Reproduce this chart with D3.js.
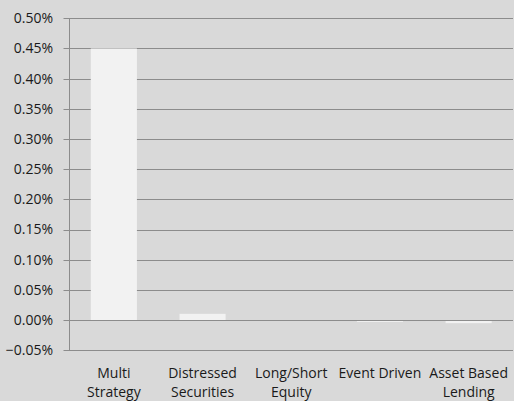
<!DOCTYPE html>
<html><head><meta charset="utf-8">
<script src="https://cdn.jsdelivr.net/npm/d3@7"></script>
<style>body{margin:0;background:#d9d9d9;}svg{display:block;}</style>
</head><body>
<svg id="c" width="514" height="401"></svg>
<script>
const categories = [["Multi","Strategy"],["Distressed","Securities"],["Long/Short","Equity"],["Event Driven"],["Asset Based","Lending"]];
const values = [0.0045, 0.000104, 0.0, -0.00003, -0.00005];
const tickValues = [-0.0005,0,0.0005,0.001,0.0015,0.002,0.0025,0.003,0.0035,0.004,0.0045,0.005];

const svg = d3.select("#c");
svg.append("rect").attr("width",514).attr("height",401).attr("fill","#d9d9d9");
const left = 69.5, right = 513;
const x = d3.scaleBand().domain(d3.range(categories.length)).range([left,right]).paddingInner(0.48).paddingOuter(0.24);
const y = d3.scaleLinear().domain([-0.0005,0.005]).range([350.3,18.3]);
const font = "'Open Sans', 'Liberation Sans', sans-serif";

// gridlines
svg.append("g").selectAll("line").data(tickValues).join("line")
  .attr("x1",left-6).attr("x2",right).attr("y1",d=>Math.round(y(d))+0.5).attr("y2",d=>Math.round(y(d))+0.5)
  .attr("stroke","#8c8c8c").attr("stroke-width",1);

// bars
svg.append("g").selectAll("rect").data(values).join("rect")
  .attr("x",(d,i)=>x(i)).attr("width",x.bandwidth())
  .attr("y",d=>Math.min(y(d),y(0))).attr("height",d=>Math.abs(y(d)-y(0)))
  .attr("fill","#f2f2f2");

// zero line over bars
svg.append("line").attr("x1",left).attr("x2",right).attr("y1",Math.round(y(0))+0.5).attr("y2",Math.round(y(0))+0.5).attr("stroke","#8c8c8c");

// y axis line
svg.append("line").attr("x1",left).attr("x2",left).attr("y1",y(0.005)).attr("y2",y(-0.0005)+0.5).attr("stroke","#8c8c8c");

// y labels
const fmt = d3.format(".2%");
svg.append("g").selectAll("text").data(tickValues).join("text")
  .attr("x",53).attr("y",d=>y(d)).attr("dy","0.35em").attr("text-anchor","end")
  .attr("font-family",font).attr("font-size",14).attr("fill","#1a1a1a")
  .text(d=>fmt(d));

// x labels
const xl = svg.append("g").selectAll("text").data(categories).join("text")
  .attr("x",(d,i)=>x(i)+x.bandwidth()/2).attr("y",378).attr("text-anchor","middle")
  .attr("font-family",font).attr("font-size",14).attr("fill","#1a1a1a");
xl.selectAll("tspan").data(d=>d).join("tspan")
  .attr("x",function(){return this.parentNode.getAttribute("x");})
  .attr("dy",(d,i)=>i?19:0).text(d=>d);
</script>
</body></html>
